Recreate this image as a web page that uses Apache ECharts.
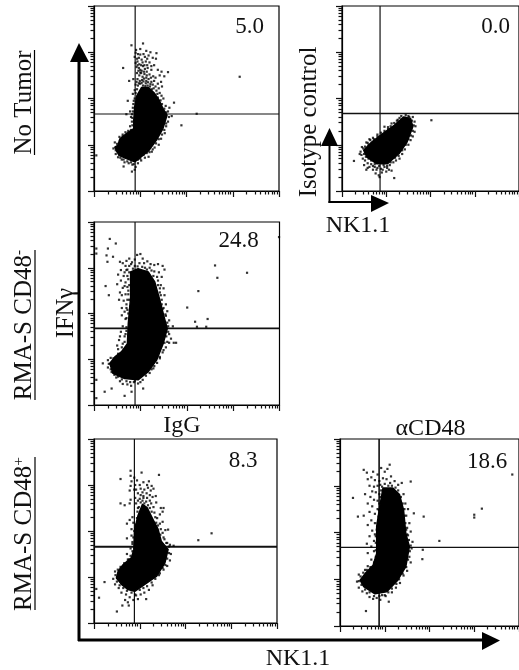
<!DOCTYPE html>
<html><head><meta charset="utf-8">
<style>html,body{margin:0;padding:0;background:#fff}#c{width:519px;height:670px}</style>
<script src="https://cdn.jsdelivr.net/npm/echarts@6/dist/echarts.min.js"></script>
</head><body><div id="c"></div>
<script>
// Values are log10 fluorescence (0-4 decades).
const percentages = ['5.0', '0.0', '24.8', '8.3', '18.6'];
const gatesX = [0.89, 0.86, 0.885, 0.883, 0.874];
const gatesY = [1.665, 1.676, 1.674, 1.66, 1.68];

const coreNoTumor = [[.52,.99],[.45,.95],[.54,.77],[.7,.7],[.88,.63],[1.03,.75],[1.19,.88],[1.35,1.1],[1.49,1.35],[1.58,1.64],[1.49,1.78],[1.41,1.96],[1.31,2.11],[1.17,2.24],[1.03,2.24],[.93,2.07],[.88,1.82],[.86,1.53],[.86,1.35],[.7,1.24],[.56,1.13]];
const dotsNoTumor = [[.81,3.15],[1.06,3.19],[.91,3.05],[1,3.07],[1.13,3.03],[1.22,3],[1.35,2.98],[.88,2.9],[.93,2.86],[.97,2.88],[1.03,2.84],[1.1,2.9],[1.18,2.93],[1.27,2.88],[1.34,2.86],[.9,2.77],[.94,2.8],[.98,2.74],[1.05,2.78],[1.12,2.8],[1.2,2.78],[1.3,2.72],[.92,2.68],[.97,2.66],[1,2.62],[1.06,2.7],[1.1,2.64],[1.16,2.66],[1.24,2.62],[.63,2.66],[1.38,2.62],[1.46,2.58],[1.6,2.57],[1.52,2.48],[1.42,2.5],[.76,2.38],[.85,2.42],[.93,2.55],[.98,2.5],[1.02,2.55],[1.05,2.47],[1.09,2.53],[1.14,2.5],[1.2,2.52],[1.28,2.48],[1.33,2.45],[.94,2.42],[.99,2.38],[1.04,2.4],[1.08,2.43],[1.13,2.38],[1.18,2.42],[1.24,2.36],[1.3,2.38],[1.38,2.32],[1.45,2.36],[1.47,2.26],[1.4,2.22],[1.33,2.26],[1.27,2.3],[.9,2.3],[.95,2.28],[1,2.32],[.88,2.18],[.84,2.1],[.73,1.95],[.78,1.72],[.82,1.66],[.7,1.66],[.8,1.6],[1.5,2],[1.55,1.84],[1.63,1.8],[1.73,1.91],[1.6,1.72],[1.68,1.62],[1.89,1.42],[2.22,1.67],[3.15,2.47],[.05,.77],[.62,1.22],[.55,1.17],[.45,1.05],[.42,.92],[.47,.8],[.52,.73],[.6,.68],[.66,.62],[.75,.6],[.83,.57],[.9,.52],[.88,.46],[.64,.53],[.82,.42],[.95,.6],[1.02,.66],[1.1,.72],[1.18,.74],[1.25,.85],[1.31,.94],[1.4,1],[1.45,1.13],[1.53,1.25],[1.56,1.4],[1.6,1.5],[.78,1.4],[.84,1.3],[.82,1.5],[.84,1.8],[.86,1.95],
[.96,2.6],[1.03,2.6],[1.08,2.58],[1.14,2.58],[.92,2.36],[.97,2.33],[1.03,2.34],[1.07,2.37],[1.12,2.33],[1.17,2.35],[1.22,2.31],[1.29,2.22],[1.35,2.17],[1.42,2.12],[1.46,2.06],[1.37,2.1],[1.06,2.28],[1.11,2.27],[1.16,2.28],[1.21,2.26],[1.25,2.2],[.93,2.2],[.9,2.12],[.88,2],[.85,1.88],[.84,1.72],[.83,1.58],[.83,1.42],[.8,1.32],[.74,1.3],[.68,1.27],[.62,1.18],[.56,1.08],[.5,1.02],[.47,.88],[.5,.86],[.57,.72],[.64,.68],[.72,.64],[.8,.62],[.86,.58],[.95,.68],[1,.7],[1.07,.78],[1.14,.82],[1.2,.84],[1.27,.9],[1.34,1.03],[1.4,1.12],[1.47,1.22],[1.52,1.32],[1.56,1.46],[1.62,1.6],[1.56,1.7],[1.52,1.78],[1.47,1.88],[1.44,1.96],[1.38,2.02],[1,2.95],[.95,2.96],[.9,2.99],[1.07,2.96],[1.15,2.86],[.94,2.72],[1.02,2.72],[1.09,2.72],[1.15,2.72],[1.24,2.7],[1,2.56],[1.13,2.45],[1.23,2.45]];

const coreIsotype = [[.49,.88],[.56,.74],[.78,.59],[1.03,.59],[1.29,.81],[1.47,1.06],[1.6,1.39],[1.55,1.57],[1.39,1.6],[1.18,1.42],[.92,1.24],[.67,1.06]];
const dotsIsotype = [[2.02,1.53],[.27,.65],[1.18,.28],[.96,1.39],[.76,.38],[.83,.34],[.42,.85],[.45,.95],[.4,.8],[.47,.7],[.52,.66],[.5,.56],[.58,.6],[.62,.52],[.66,.58],[.7,.46],[.74,.52],[.8,.5],[.88,.48],[.9,.4],[.96,.52],[1.02,.5],[1.08,.56],[1.16,.62],[1.22,.66],[1.3,.7],[1.36,.8],[1.42,.9],[1.5,1],[1.55,1.1],[1.6,1.18],[1.64,1.28],[1.66,1.4],[1.64,1.5],[1.6,1.6],[1.5,1.62],[1.44,1.64],[.55,1.05],[.62,1.12],[.7,1.15],[.8,1.22],[1.04,1.38],[1.12,1.46],[1.24,1.52],[1.3,1.58],[.6,1],[.85,.3],[1,.42],[1.12,.44],[.55,.46],
[.5,.8],[.48,.92],[.52,.96],[.58,1.04],[.64,1.1],[.72,1.12],[.8,1.18],[.88,1.26],[.96,1.3],[1.04,1.34],[1.1,1.4],[1.18,1.47],[1.26,1.54],[1.34,1.62],[1.42,1.58],[1.52,1.6],[1.58,1.52],[1.62,1.42],[1.6,1.3],[1.56,1.2],[1.5,1.12],[1.44,1],[1.36,.88],[1.28,.76],[1.2,.72],[1.1,.62],[1.02,.54],[.94,.56],[.84,.54],[.74,.58],[.66,.66],[.6,.7],[.54,.74],[.44,.78],[.7,.54],[.78,.46],[.92,.46],[1.06,.46],[.58,.5]];

const coreCD48neg = [[.34,.91],[.41,.69],[.66,.58],[.95,.55],[1.17,.73],[1.35,.98],[1.49,1.34],[1.58,1.67],[1.51,1.93],[1.42,2.29],[1.31,2.69],[1.17,2.91],[.95,2.98],[.79,2.91],[.79,2.36],[.74,1.78],[.72,1.34],[.59,1.16],[.45,1.05]];
const dotsCD48neg = [[.34,3.63],[.47,3.53],[.05,3.42],[.05,3.31],[.3,3.42],[.27,3.27],[.41,3.24],[.29,3.13],[.56,3.13],[3.99,3.67],[2.61,3.05],[2.66,2.78],[3.3,2.89],[2.25,2.49],[2.01,2.13],[2.18,1.82],[2.45,1.88],[2.22,1.71],[2.42,1.71],[.19,.91],[.05,.55],[.23,.29],[.38,.36],[.05,.15],[.66,.2],[.81,.29],[1.06,.36],[.25,2.6],[.32,2.4],[.62,3.1],[.7,3.15],[.76,3.2],[.82,3.12],[.88,3.18],[.93,3.28],[1,3.3],[1.05,3.2],[.98,3.1],[1.08,3.1],[1.15,3.14],[1.22,3.08],[1.3,3.06],[1.38,3.08],[1.48,3.04],[1.52,2.96],[1.4,2.9],[1.3,2.92],[1.46,2.8],[1.38,2.72],[1.44,2.62],[1.5,2.55],[1.42,2.46],[1.52,2.4],[1.46,2.3],[1.55,2.2],[1.5,2.12],[1.58,2.05],[1.55,1.95],[1.62,1.85],[1.7,1.72],[1.62,1.55],[1.66,1.45],[1.58,1.38],[1.55,1.26],[1.62,1.36],[1.72,1.36],[1.77,1.36],[1.48,1.15],[1.42,1.02],[1.3,.85],[1.24,.78],[.36,1.03],[.3,.98],[.3,.82],[.38,.72],[.48,.6],[.56,.52],[.62,.46],[.72,.45],[.8,.42],[.86,.5],[.95,.47],[1.05,.55],[.58,2.95],[.66,2.9],[.52,2.85],[.72,2.82],[.58,2.72],[.68,2.68],[.5,2.64],[.62,2.56],[.72,2.58],[.56,2.46],[.68,2.42],[.74,2.5],[.54,2.3],[.64,2.28],[.7,2.2],[.6,2.12],[.66,2.04],[.72,2.08],[.6,1.96],[.68,1.88],[.62,1.72],[.58,1.6],[.66,1.5],[.54,1.42],[.62,1.34],[.52,1.22],[.5,1.3],[.56,1.5],[.7,1.62],[1.2,3],[1.1,3],[.88,3.04],
[.7,2.95],[.76,2.9],[.74,2.75],[.76,2.62],[.74,2.42],[.76,2.3],[.72,2.3],[.7,2.12],[.74,2],[.7,1.9],[.7,1.7],[.68,1.55],[.66,1.38],[.6,1.26],[.52,1.12],[.42,1.02],[.32,.9],[.36,.78],[.44,.66],[.52,.62],[.6,.56],[.7,.52],[.78,.5],[.88,.52],[1,.5],[1.12,.64],[1.2,.7],[1.28,.8],[1.36,.92],[1.42,1.05],[1.5,1.2],[1.52,1.36],[1.56,1.5],[1.6,1.6],[1.6,1.72],[1.58,1.8],[1.54,1.98],[1.48,2.1],[1.46,2.2],[1.44,2.4],[1.42,2.55],[1.38,2.62],[1.36,2.8],[1.28,2.82],[1.24,2.94],[1.14,2.96],[1.04,3.02],[.94,3.03],[.84,2.98],[.76,3.04],[.68,3.04],[.8,3.08],[.72,2.96],[.64,2.82],[.66,2.6],[.6,2.4],[.78,2.15]];

const coreCD48posIgG = [[.49,.98],[.6,.84],[.74,.73],[.89,.69],[1.11,.84],[1.37,1.02],[1.55,1.31],[1.62,1.6],[1.47,1.78],[1.4,2.04],[1.29,2.25],[1.16,2.51],[1.06,2.58],[.96,2.33],[.89,2.04],[.87,1.6],[.82,1.42],[.64,1.27],[.53,1.13]];
const dotsCD48posIgG = [[2.57,1.95],[2.28,1.8],[.05,.74],[.11,.55],[.5,.25],[.23,.89],[.58,3.13],[.8,3.31],[1.04,3.27],[1.42,3.22],[.58,2.6],[.67,2.56],[.8,3.2],[.88,3.16],[.82,3.08],[.94,3.1],[.8,2.98],[.9,3],[1,3],[1.08,3.06],[1.16,3],[1.2,3.08],[1.26,2.98],[.78,2.88],[.88,2.9],[1.02,2.92],[1.1,2.9],[1.18,2.94],[1.24,2.88],[1.3,2.92],[.8,2.68],[.78,2.6],[.9,2.72],[.96,2.66],[1.02,2.78],[1.08,2.76],[1.15,2.82],[1.22,2.78],[1.28,2.74],[1.35,2.76],[.92,2.6],[.96,2.5],[1.25,2.6],[1.3,2.52],[1.36,2.62],[1.46,2.5],[1.44,2.36],[1.5,2.42],[1.52,2.5],[1.38,2.28],[1.44,2.16],[1.5,2.2],[1.56,2.02],[1.62,2.03],[1.45,1.92],[1.52,1.86],[1.58,1.74],[1.66,1.7],[1.74,1.68],[1.68,1.5],[1.66,1.36],[1.6,1.24],[1.52,1.16],[1.44,1.08],[.72,2.16],[.78,2.24],[.84,2.3],[.86,2.18],[.82,2.04],[.72,1.84],[.82,1.9],[.84,1.76],[.8,1.62],[.72,1.5],[.76,1.38],[.46,1.12],[.42,.96],[.46,.84],[.54,.76],[.6,.66],[.7,.62],[.78,.56],[.86,.5],[.74,.45],[.96,.52],[1.02,.62],[1.1,.66],[1.14,.52],[1.2,.72],[1.28,.82],[.68,.5],[.62,.38],[.76,.38],[.92,.6],
[.98,2.52],[1.02,2.62],[1.06,2.66],[1.1,2.6],[1.14,2.64],[1.18,2.56],[1.22,2.5],[1.26,2.42],[1.32,2.4],[1.34,2.3],[1.36,2.18],[1.4,2.12],[1.46,2.04],[1.5,1.96],[1.54,1.82],[1.6,1.74],[1.64,1.66],[.95,2.42],[.94,2.28],[.92,2.14],[.88,2],[.86,1.86],[.84,1.72],[.84,1.56],[.8,1.46],[.74,1.38],[.66,1.3],[.58,1.22],[.52,1.16],[.47,1.04],[.5,.9],[.56,.82],[.64,.76],[.72,.7],[.82,.66],[.9,.62],[1,.72],[1.08,.76],[1.16,.8],[1.26,.88],[1.34,.96],[1.42,1.04],[1.5,1.2],[1.56,1.26],[1.6,1.4],[1.64,1.52],[1,2.7],[1.08,2.72],[1.16,2.72],[1.22,2.66],[1.06,2.84],[.96,2.82],[.92,2.9]];

const coreCD48posAnti = [[.45,.98],[.53,.84],[.78,.69],[1.04,.73],[1.29,.98],[1.47,1.27],[1.55,1.7],[1.47,1.98],[1.42,2.48],[1.33,2.81],[1.18,2.95],[.96,2.95],[.89,2.56],[.82,2.13],[.82,1.55],[.74,1.3],[.56,1.12]];
const dotsCD48posAnti = [[3.85,3.24],[3.17,2.51],[3,2.38],[3,2.32],[2.22,1.82],[1.85,1.63],[1.84,1.43],[.29,2.74],[.4,2.34],[.53,2.36],[.53,3.34],[1.11,3.45],[.58,.32],[1.09,.52],[1.58,3.09],[1.87,2.34],[1.65,2.41],[.6,3.28],[.74,3.3],[.84,3.24],[.92,3.38],[1,3.3],[1.06,3.36],[1.14,3.2],[.62,3.14],[.7,3.18],[.78,3.12],[.88,3.1],[.96,3.16],[1.04,3.14],[1.12,3.06],[1.22,3.1],[1.3,3.02],[1.38,3.06],[.66,3],[.76,2.98],[.84,3],[.72,2.88],[.8,2.86],[.88,2.82],[.56,2.82],[.68,2.76],[.76,2.7],[.84,2.68],[.62,2.62],[.72,2.56],[.84,2.5],[.66,2.44],[.78,2.4],[.7,2.26],[.78,2.2],[.62,2.16],[.72,2.04],[.78,1.96],[.66,1.92],[.76,1.82],[.6,1.76],[.7,1.7],[.76,1.6],[.62,1.56],[.7,1.42],[1.42,2.82],[1.46,2.62],[1.52,2.5],[1.48,2.36],[1.55,2.2],[1.5,2.1],[1.58,2.02],[1.52,1.94],[1.62,1.8],[1.6,1.66],[1.55,1.48],[1.58,1.36],[1.5,1.18],[1.42,1.08],[1.34,.92],[1.25,.82],[1.16,.72],[.42,1.1],[.38,.95],[.42,.82],[.5,.74],[.6,.7],[.66,.62],[.74,.58],[.82,.6],[.9,.56],[.94,.66],[1.02,.64],[.56,1.2],[.62,1.28],
[.9,3.02],[1,3.04],[1.08,3],[1.16,3],[1.24,2.96],[1.3,2.9],[1.36,2.76],[1.4,2.62],[1.44,2.5],[1.44,2.36],[1.46,2.2],[1.48,2.06],[1.5,1.96],[1.54,1.84],[1.58,1.72],[1.56,1.6],[1.52,1.42],[1.48,1.26],[1.4,1.12],[1.32,1],[1.26,.9],[1.16,.8],[1.08,.72],[1,.66],[.88,.64],[.76,.64],[.66,.72],[.56,.78],[.48,.88],[.42,.96],[.46,1.06],[.52,1.14],[.6,1.2],[.68,1.26],[.76,1.36],[.8,1.48],[.8,1.62],[.8,1.78],[.8,1.92],[.82,2.06],[.84,2.2],[.86,2.34],[.87,2.48],[.88,2.62],[.9,2.76],[.92,2.9],[.94,2.98]];

const decadeTicks = [0, 1, 2, 3, 4];
const minorMultiples = [2, 3, 4, 5, 6, 7, 8, 9];
const coresAll = [coreNoTumor, coreIsotype, coreCD48neg, coreCD48posIgG, coreCD48posAnti];
const dotsAll = [dotsNoTumor, dotsIsotype, dotsCD48neg, dotsCD48posIgG, dotsCD48posAnti];

// Layout only
const gridBoxes = [
  {left:94, top:6, width:185, height:185},
  {left:342, top:6, width:184, height:185},
  {left:94, top:222, width:185.5, height:183},
  {left:94, top:439, width:183, height:184},
  {left:340, top:439, width:183, height:187}
];
const gateWidthsV = [1.2, 1.2, 1.2, 1.2, 1.6];
const gateWidthsH = [1.2, 1.4, 1.6, 2, 1.2];
const labelPos = [[249.5,27],[495.5,27],[238.5,241],[243,461],[487,462]];

const minorVals = [];
decadeTicks.slice(0,4).forEach(d => minorMultiples.forEach(m => minorVals.push(d + Math.log10(m))));

const grid = [], xAxis = [], yAxis = [], series = [];
const ax = (vals, len, i, pos, line) => ({
  type:'value', min:0, max:4, gridIndex:i, position:pos, silent:true,
  splitLine:{show:false}, axisLabel:{show:false},
  axisLine:{show:line, onZero:false, lineStyle:{color:'#000', width:1.2}},
  axisTick:{show:true, customValues:vals, length:len, lineStyle:{color:'#111', width:1.2}}
});
gridBoxes.forEach((b, i) => {
  grid.push({...b, show:true, borderColor:'#000', borderWidth:1.2, backgroundColor:'transparent'});
  const xi = xAxis.length, yi = yAxis.length;
  xAxis.push(ax(decadeTicks, 6, i, 'bottom', true), ax(minorVals, 3.5, i, 'bottom', false));
  yAxis.push(ax(decadeTicks, 6, i, 'left', true), ax(minorVals, 3.5, i, 'left', false));
  const core = coresAll[i];
  series.push({
    type:'custom', xAxisIndex:xi, yAxisIndex:yi, data:core, silent:true, z:3,
    encode:{x:0, y:1},
    renderItem:(p, api) => p.dataIndex === 0 ? ({
      type:'polygon', shape:{points:core.map(c => api.coord(c))},
      style:{fill:'#000', stroke:'#000', lineWidth:1.5, lineJoin:'round'}
    }) : null
  });
  series.push({type:'scatter', xAxisIndex:xi, yAxisIndex:yi, data:dotsAll[i], symbol:'rect', symbolSize:2.2,
    itemStyle:{color:'#000'}, silent:true, z:4, animation:false});
  series.push({type:'line', xAxisIndex:xi, yAxisIndex:yi, data:[[gatesX[i],0],[gatesX[i],4]], symbol:'none',
    lineStyle:{color:'#111', width:gateWidthsV[i]}, silent:true, z:2});
  series.push({type:'line', xAxisIndex:xi, yAxisIndex:yi, data:[[0,gatesY[i]],[4,gatesY[i]]], symbol:'none',
    lineStyle:{color:'#111', width:gateWidthsH[i]}, silent:true, z:2});
});

const FONT = '"Liberation Serif", serif';
const txt = (text, x, y, size, rot) => ({
  type:'text', x, y, rotation:rot||0, z:20, silent:true,
  style:{text, fontFamily:FONT, fontSize:size, fill:'#111', align:'center', verticalAlign:'middle',
    rich:{sup:{fontFamily:FONT, fontSize:size*0.62, fill:'#111', verticalAlign:'bottom', padding:[0,0,12,0]}}}
});
const seg = (x1,y1,x2,y2,w) => ({type:'line', z:20, silent:true, shape:{x1,y1,x2,y2}, style:{stroke:'#000', lineWidth:w}});
const tri = (pts) => ({type:'polygon', z:20, silent:true, shape:{points:pts}, style:{fill:'#000'}});
const R = Math.PI/2;
const graphic = [
  ...percentages.map((t,i) => txt(t, labelPos[i][0], labelPos[i][1], 23)),
  txt('No Tumor', 24.5, 102.5, 25, R), seg(34.5,50,34.5,155,1.2),
  txt('RMA-S CD48{sup|-}', 24.5, 325, 25, R), seg(35,250,35,400,1.2),
  txt('RMA-S CD48{sup|+}', 24.5, 534, 25, R), seg(35,457,35,610,1.2),
  txt('IFN\u03b3', 67, 313, 24.5, R),
  txt('IgG', 182, 426, 24),
  txt('\u03b1CD48', 430.5, 429, 24),
  txt('NK1.1', 358, 226, 24),
  txt('NK1.1', 298, 659, 24),
  txt('Isotype control', 309, 122, 25, R),
  seg(79,60,79,641,3), seg(78,640,485,640,3),
  tri([[79,43],[70,62],[89,62]]), tri([[500,640.5],[482,632],[482,650]]),
  seg(329.5,145,329.5,203,2), seg(328.5,202,372,202,2),
  tri([[329.5,128],[321,146],[338,146]]), tri([[389,203],[371,195],[371,212]])
];

const chart = echarts.init(document.getElementById('c'), null, {renderer:'canvas'});
chart.setOption({animation:false, backgroundColor:'#fff', grid, xAxis, yAxis, series, graphic, tooltip:{show:false}, legend:{show:false}});
</script></body></html>
